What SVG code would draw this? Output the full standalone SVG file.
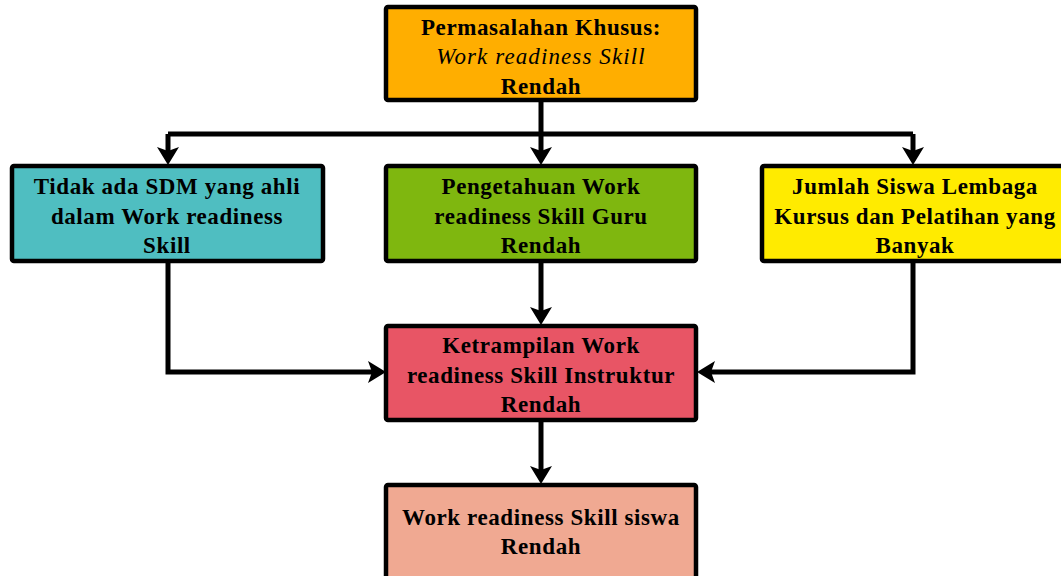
<svg xmlns="http://www.w3.org/2000/svg" width="1061" height="576" viewBox="0 0 1061 576">
<style>
.box{stroke:#000;stroke-width:4.5}
.t{font-family:"Liberation Serif","Times New Roman",serif;font-weight:bold;font-size:23px;text-anchor:middle;fill:#000;letter-spacing:0.6px}
.it{font-weight:normal;font-style:italic;letter-spacing:1.1px}
.c{fill:none;stroke:#000;stroke-width:5}
</style>
<defs>
<marker id="ah" markerUnits="userSpaceOnUse" viewBox="-19 -12 21 24" markerWidth="21" markerHeight="24" refX="-9" refY="0" orient="auto">
<path d="M0,0 L-18,-11 L-14,0 L-18,11 Z" fill="#000"/>
</marker>
</defs>
<rect width="1061" height="576" fill="#fff"/>
<g id="connectors">
<path class="c" d="M541,100 V134"/>
<path class="c" d="M168,134 H913"/>
<path class="c" d="M168,134 V156" marker-end="url(#ah)"/>
<path class="c" d="M541,134 V156" marker-end="url(#ah)"/>
<path class="c" d="M913,134 V156" marker-end="url(#ah)"/>
<path class="c" d="M541,261 V316" marker-end="url(#ah)"/>
<path class="c" d="M168,261 V372 H377" marker-end="url(#ah)"/>
<path class="c" d="M913,261 V372 H706" marker-end="url(#ah)"/>
<path class="c" d="M541,420 V475" marker-end="url(#ah)"/>
</g>
<g id="top">
<rect class="box" x="386" y="7" width="310" height="93" rx="2" fill="#FFAE00"/>
<text class="t" x="541" y="35">Permasalahan Khusus:</text>
<text class="t it" x="541" y="64">Work readiness  Skill</text>
<text class="t" x="541" y="94">Rendah</text>
</g>
<g id="left">
<rect class="box" x="12" y="166" width="311" height="95" rx="2" fill="#4FBEC1"/>
<text class="t" x="167" y="194">Tidak ada SDM yang ahli</text>
<text class="t" x="167" y="224">dalam Work readiness</text>
<text class="t" x="167" y="253">Skill</text>
</g>
<g id="middle">
<rect class="box" x="386" y="166" width="310" height="95" rx="2" fill="#7FB70F"/>
<text class="t" x="541" y="194">Pengetahuan Work</text>
<text class="t" x="541" y="224">readiness Skill Guru</text>
<text class="t" x="541" y="253">Rendah</text>
</g>
<g id="right">
<rect class="box" x="762" y="166" width="312" height="95" rx="2" fill="#FFEB00"/>
<text class="t" x="915" y="194">Jumlah Siswa Lembaga</text>
<text class="t" x="915" y="224">Kursus dan Pelatihan yang</text>
<text class="t" x="915" y="253">Banyak</text>
</g>
<g id="center">
<rect class="box" x="386" y="326" width="310" height="94" rx="2" fill="#E85565"/>
<text class="t" x="541" y="353">Ketrampilan Work</text>
<text class="t" x="541" y="383">readiness Skill Instruktur</text>
<text class="t" x="541" y="412">Rendah</text>
</g>
<g id="bottom">
<rect class="box" x="386" y="485" width="310" height="100" rx="2" fill="#F0A992"/>
<text class="t" x="541" y="525">Work readiness Skill siswa</text>
<text class="t" x="541" y="554">Rendah</text>
</g>
</svg>
